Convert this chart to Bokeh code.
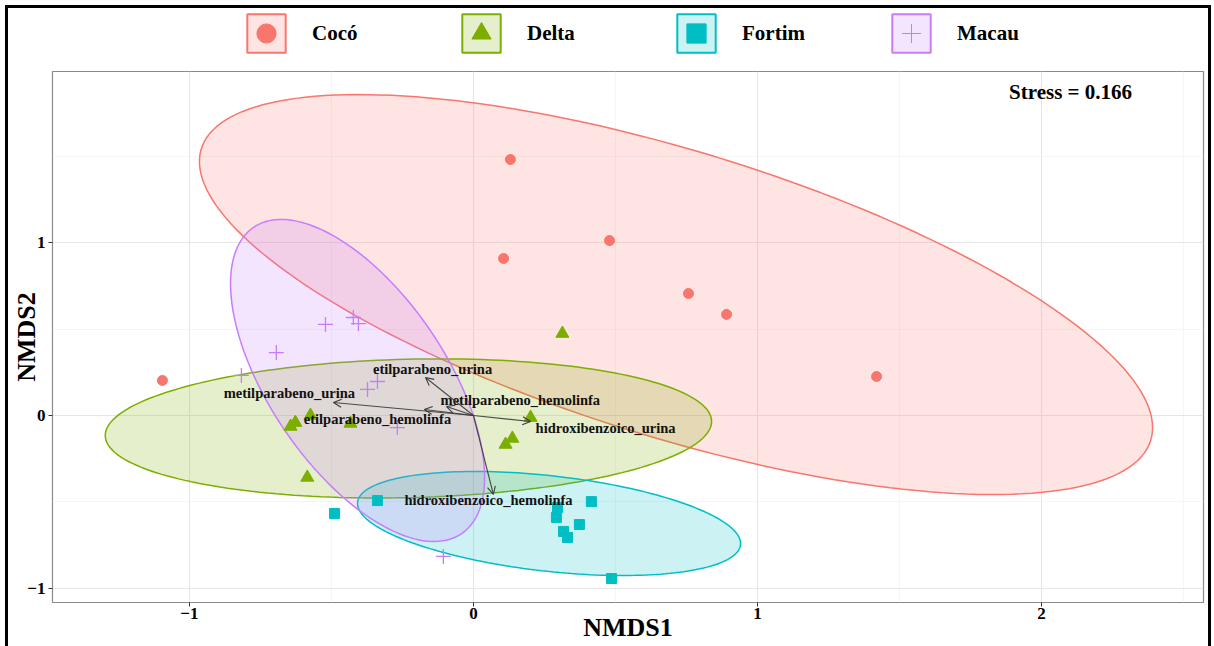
import numpy as np
from bokeh.plotting import figure
from bokeh.layouts import column
from bokeh.models import (ColumnDataSource, Arrow, OpenHead, Legend, LegendItem,
                          FixedTicker)
from bokeh.core.properties import value
from bokeh.embed import file_html
from bokeh.resources import INLINE

# ---- sites, colours, markers ----
groups = ["Cocó", "Delta", "Fortim", "Macau"]
colors = ["#F8766D", "#7CAE00", "#00BFC4", "#C77CFF"]
markers = ["circle", "triangle", "square", "cross"]
marker_sizes = [10, 13, 10, 15]

# ---- NMDS site scores ----
coco_x = [-1.095, 0.130, 0.106, 0.479, 0.757, 0.891, 1.419]
coco_y = [0.203, 1.484, 0.910, 1.014, 0.707, 0.586, 0.226]

delta_x = [0.313, -0.574, -0.627, -0.644, -0.433, 0.201, 0.137, 0.113, -0.585]
delta_y = [0.475, 0.000, -0.041, -0.064, -0.046, -0.012, -0.133, -0.168, -0.359]

fortim_x = [-0.338, -0.489, 0.415, 0.296, 0.292, 0.373, 0.317, 0.331, 0.486]
fortim_y = [-0.493, -0.568, -0.499, -0.533, -0.591, -0.632, -0.672, -0.707, -0.945]

macau_x = [-0.521, -0.423, -0.405, -0.694, -0.817, -0.338, -0.373, -0.268, -0.106]
macau_y = [0.528, 0.568, 0.533, 0.365, 0.232, 0.197, 0.151, -0.070, -0.817]

site_x = [coco_x, delta_x, fortim_x, macau_x]
site_y = [coco_y, delta_y, fortim_y, macau_y]

# ---- group ellipses: centre and shape matrix ----
ellipse_cx = [0.713, -0.229, 0.266, -0.408]
ellipse_cy = [0.701, -0.075, -0.626, 0.203]
ellipse_sxx = [2.815, 1.139, 0.4547, 0.200]
ellipse_sxy = [-1.294, 0.0433, -0.0782, -0.2511]
ellipse_syy = [1.344, 0.1626, 0.0909, 0.8711]

# ---- fitted environmental vectors ----
vector_names = ["etilparabeno_urina", "metilparabeno_urina", "metilparabeno_hemolinfa",
                "etilparabeno_hemolinfa", "hidroxibenzoico_urina", "hidroxibenzoico_hemolinfa"]
vector_x = [-0.169, -0.493, -0.095, -0.173, 0.201, 0.070]
vector_y = [0.220, 0.075, 0.052, 0.035, -0.035, -0.458]
vector_label_x = [-0.144, -0.648, 0.165, -0.338, 0.465, 0.053]
vector_label_y = [0.272, 0.128, 0.087, -0.023, -0.070, -0.487]

stress = 0.166

x_ticks = [-1, 0, 1, 2]
x_tick_labels = ["\u22121", "0", "1", "2"]
y_ticks = [-1, 0, 1]
y_tick_labels = ["\u22121", "0", "1"]

SERIF = "Liberation Serif"

# ---------------- main ordination panel ----------------
p = figure(width=1214, height=576, x_range=(-1.482, 2.570), y_range=(-1.084, 1.994),
           output_backend="svg", toolbar_location=None,
           x_axis_label="NMDS1", y_axis_label="NMDS2",
           min_border_left=52, min_border_right=11, min_border_top=1, min_border_bottom=44)
p.border_fill_alpha = 0
p.background_fill_color = "white"
p.outline_line_color = "#8a8a8a"
p.outline_line_width = 1.2

p.xaxis.ticker = FixedTicker(ticks=x_ticks, minor_ticks=[-1.5, -0.5, 0.5, 1.5, 2.5])
p.yaxis.ticker = FixedTicker(ticks=y_ticks, minor_ticks=[-0.5, 0.5, 1.5])
p.xaxis.major_label_overrides = dict(zip(x_ticks, x_tick_labels))
p.yaxis.major_label_overrides = dict(zip(y_ticks, y_tick_labels))
for g in (p.xgrid, p.ygrid):
    g.grid_line_color = "#e6e6e6"
    g.grid_line_width = 1.1
    g.minor_grid_line_color = "#f2f2f2"
    g.minor_grid_line_width = 0.8
for ax in (p.xaxis, p.yaxis):
    ax.axis_line_color = None
    ax.major_tick_line_color = "#333333"
    ax.major_tick_in = 0
    ax.major_tick_out = 4
    ax.minor_tick_line_color = None
    ax.major_label_text_font = SERIF
    ax.major_label_text_font_style = "bold"
    ax.major_label_text_font_size = "17px"
    ax.major_label_text_color = "black"
    ax.axis_label_text_font = SERIF
    ax.axis_label_text_font_style = "bold"
    ax.axis_label_text_font_size = "26px"
    ax.axis_label_text_color = "black"
p.xaxis.major_label_standoff = 1
p.yaxis.major_label_standoff = 3
p.xaxis.axis_label_standoff = -9
p.yaxis.axis_label_standoff = -17

# ellipses
t = np.linspace(0, 2 * np.pi, 200)
circle = np.vstack([np.cos(t), np.sin(t)])
for i, c in enumerate(colors):
    S = np.array([[ellipse_sxx[i], ellipse_sxy[i]], [ellipse_sxy[i], ellipse_syy[i]]])
    L = np.linalg.cholesky(S)
    pts = L @ circle
    p.patch(ellipse_cx[i] + pts[0], ellipse_cy[i] + pts[1], fill_color=c, fill_alpha=0.2,
            line_color=c, line_width=1.5)

# site points
for i, c in enumerate(colors):
    p.scatter(site_x[i], site_y[i], marker=markers[i], size=marker_sizes[i],
              fill_color=c, line_color=c, line_width=1.3 if markers[i] == "cross" else 1)

# vectors
vec_src = ColumnDataSource(dict(x0=[0] * len(vector_x), y0=[0] * len(vector_y),
                                x1=vector_x, y1=vector_y))
p.add_layout(Arrow(source=vec_src, x_start="x0", y_start="y0", x_end="x1", y_end="y1",
                   line_color="#3a3a3a", line_width=1.1, line_alpha=0.9,
                   end=OpenHead(size=8, line_color="#3a3a3a", line_width=1.1)))
p.text(vector_label_x, vector_label_y, text=vector_names, text_font=value(SERIF),
       text_font_style="bold", text_font_size="14.5px", text_color="#111111",
       text_align="center", text_baseline="middle")

p.text([2.102], [1.878], text=[f"Stress = {stress}"], text_font=value(SERIF),
       text_font_style="bold", text_font_size="21px", text_color="black",
       text_align="center", text_baseline="middle")

# ---------------- legend strip across the top ----------------
leg = figure(width=1214, height=70, x_range=(0, 1), y_range=(0, 1),
             x_axis_type=None, y_axis_type=None, output_backend="svg",
             toolbar_location=None, min_border=0)
leg.border_fill_alpha = 0
leg.background_fill_alpha = 0
leg.outline_line_color = None

# key renderers carry a single undrawn (NaN) vertex: only their styles feed the legend
no_xy = np.array([np.nan])
items = []
for i, g in enumerate(groups):
    key_area = leg.patch(no_xy, no_xy, fill_color=colors[i], fill_alpha=0.2,
                         line_color=colors[i], line_width=2)
    key_mark = leg.scatter(no_xy, no_xy, marker=markers[i], fill_color=colors[i],
                           line_color=colors[i], line_width=1)
    items.append(LegendItem(label=g, renderers=[key_area, key_mark]))

legend = Legend(items=items, orientation="horizontal", location=(190, 13),
                glyph_width=48, glyph_height=48, label_standoff=22, label_width=64,
                spacing=81, padding=0, margin=0, border_line_color=None,
                background_fill_alpha=0,
                label_text_font=SERIF, label_text_font_style="bold",
                label_text_font_size="21px", label_text_color="black")
leg.add_layout(legend, "center")

page = column(leg, p, spacing=0)
page.styles = {
    "background-color": "white",
    "box-shadow": "inset 5px 5px 0 0 white, inset -3px 0 0 0 white, "
                  "inset 8px 8px 0 0 black, inset -6px 0 0 0 black",
}

open("out.html", "w").write(file_html(page, INLINE))
